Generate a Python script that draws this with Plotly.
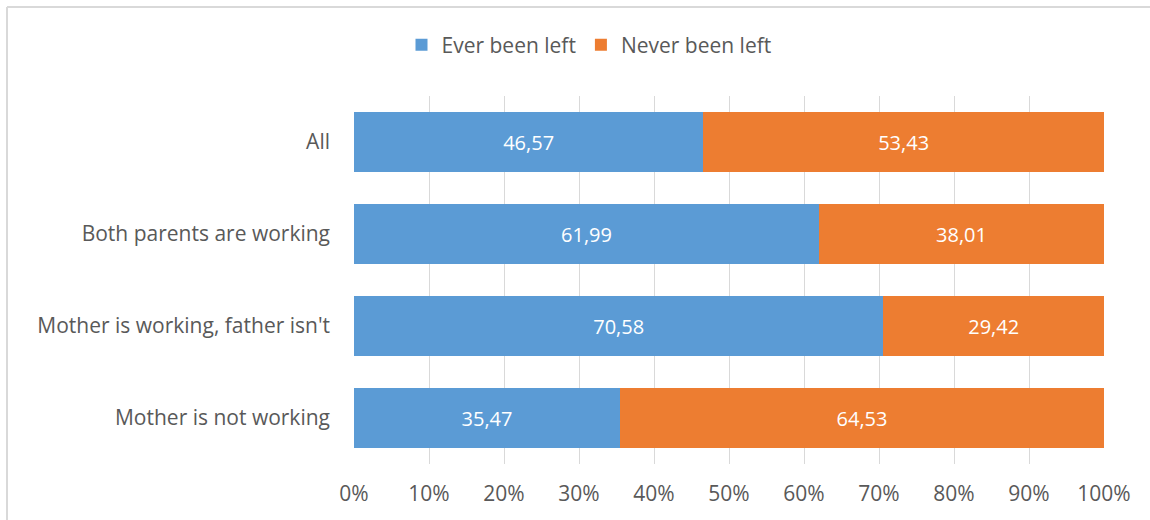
import plotly.graph_objects as go

categories = ["All", "Both parents are working", "Mother is working, father isn't", "Mother is not working"]
ever_left = [46.57, 61.99, 70.58, 35.47]
never_left = [53.43, 38.01, 29.42, 64.53]
series_names = ["Ever been left", "Never been left"]
tick_vals = [0, 10, 20, 30, 40, 50, 60, 70, 80, 90, 100]
tick_text = ["0%", "10%", "20%", "30%", "40%", "50%", "60%", "70%", "80%", "90%", "100%"]

BLUE = "#5B9BD5"
ORANGE = "#ED7D31"
TXT = "#595959"
FONT = "Open Sans"
FS = 21

W, H = 1150, 520
L, R, T, B = 354, 46, 96, 56
pw, ph = W - L - R, H - T - B

def px_x(p):
    return (p - L) / pw

def px_y(p):
    return (H - B - p) / ph

fig = go.Figure()
for name, vals, col in [(series_names[0], ever_left, BLUE), (series_names[1], never_left, ORANGE)]:
    fig.add_trace(go.Bar(
        y=categories, x=vals, name=name, orientation="h",
        marker=dict(color=col, line=dict(width=0)),
        text=vals, texttemplate="%{x:.2f}", textposition="inside",
        insidetextanchor="middle",
        textfont=dict(color="white", size=20, family=FONT),
    ))

fig.update_layout(
    width=W, height=H,
    barmode="stack", bargap=0.34,
    separators=",.",
    margin=dict(l=L, r=R, t=T, b=B),
    paper_bgcolor="white", plot_bgcolor="white",
    font=dict(family=FONT, color=TXT, size=FS),
    legend=dict(orientation="h", x=px_x(589), xanchor="center", y=px_y(45), yanchor="middle",
                font=dict(size=FS, color=TXT), itemwidth=30, traceorder="normal",
                bgcolor="rgba(0,0,0,0)"),
    showlegend=True,
)
fig.update_xaxes(range=[0, 100], tickmode="array", tickvals=tick_vals, ticktext=tick_text, showgrid=True,
                 gridcolor="#D9D9D9", gridwidth=1, zeroline=False, showline=False,
                 ticks="", ticklabelstandoff=15, tickfont=dict(size=FS, color=TXT), fixedrange=True)
fig.update_yaxes(autorange="reversed", showgrid=False, zeroline=False, showline=False,
                 ticks="", ticklabelstandoff=23, tickfont=dict(size=FS, color=TXT))

# outer frame (top and left edges visible)
fig.add_shape(type="line", xref="paper", yref="paper", x0=px_x(7), x1=px_x(1150), y0=px_y(7), y1=px_y(7),
              line=dict(color="#D9D9D9", width=2))
fig.add_shape(type="line", xref="paper", yref="paper", x0=px_x(7), x1=px_x(7), y0=px_y(7), y1=px_y(520),
              line=dict(color="#D9D9D9", width=2))

fig.write_html("out.html")
